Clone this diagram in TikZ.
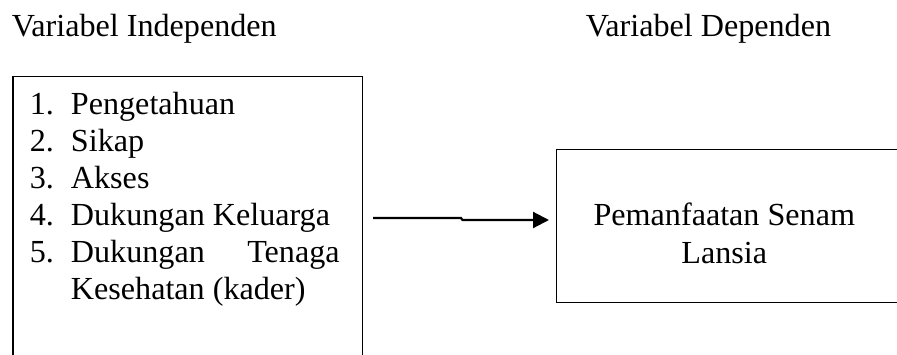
\documentclass[tikz,border=0pt]{standalone}
\usepackage{fontspec}
\setmainfont{Liberation Serif}
\usepackage{tikz}
\usetikzlibrary{arrows.meta}

\tikzset{
	txt/.style={anchor=base west, inner sep=0pt, font=\fontsize{24.1}{27.75}\selectfont},
	ctxt/.style={txt, anchor=base},
	box/.style={draw, line width=1.1pt, anchor=north west, inner sep=0pt},
	arr/.style={line width=1.6pt, -{Triangle[length=12pt, width=12pt]}}
}

\begin{document}
\begin{tikzpicture}[x=0.75pt, y=-0.75pt]
	\useasboundingbox (0, 0) rectangle (897, 354);
	\clip (0, 0) rectangle (897, 354);
	%% titles
	\node[txt] (tind) at (11.5, 36) {Variabel Independen};
	\node[txt] (tdep) at (585.5, 36) {Variabel Dependen};
	%% left box
	\node[box, minimum width=262pt, minimum height=258pt] (indep) at (12.3, 76) {};
	\node[txt] (n1) at (29.5, 114) {1.};
	\node[txt] (v1) at (70.7, 114) {Pengetahuan};
	\node[txt] (n2) at (29.5, 151) {2.};
	\node[txt] (v2) at (70.7, 151) {Sikap};
	\node[txt] (n3) at (29.5, 188) {3.};
	\node[txt] (v3) at (70.7, 188) {Akses};
	\node[txt] (n4) at (29.5, 225) {4.};
	\node[txt] (v4) at (70.7, 225) {Dukungan Keluarga};
	\node[txt] (n5) at (29.5, 262) {5.};
	\node[txt] (v5) at (70.7, 262) {\hbox to 201.5pt{Dukungan\hfill Tenaga}};
	\node[txt] (v6) at (70.7, 299) {Kesehatan (kader)};
	%% right box
	\node[box, minimum width=300pt, minimum height=114.5pt] (dep) at (556, 149) {};
	\node[ctxt] (d1) at (724.3, 225) {Pemanfaatan Senam};
	\node[ctxt] (d2) at (724.3, 263) {Lansia};
	%% arrow
	\coordinate (from) at (373, 218);
	\coordinate (to) at (549, 220);
	\draw[arr] (from) -- (461, 218) -- (462.5, 220) -- (to);
\end{tikzpicture}
\end{document}
